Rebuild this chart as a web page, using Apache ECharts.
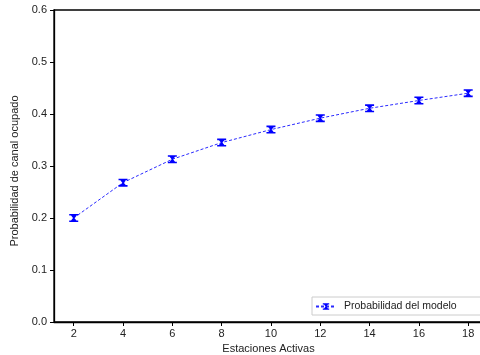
<!DOCTYPE html>
<html>
<head>
<meta charset="utf-8">
<script src="https://cdn.jsdelivr.net/npm/echarts@6/dist/echarts.min.js"></script>
<style>
  html, body { margin: 0; padding: 0; background: #fff; }
  #chart { width: 480px; height: 355px; }
</style>
</head>
<body>
<div id="chart"></div>
<script>
// Active stations and the modelled probability that the channel is busy
const stations = [2, 4, 6, 8, 10, 12, 14, 16, 18];
const busyProbability = [0.200, 0.268, 0.313, 0.345, 0.370, 0.392, 0.411, 0.426, 0.440];
const seriesName = 'Probabilidad del modelo';
const xTitle = 'Estaciones Activas';
const yTitle = 'Probabilidad de canal ocupado';

// Error-bar style marker: two caps joined by a pinched waist
const barMarker = 'path://M0,0 L10,0 L10,2 L8,2 L5.8,5 L8,8 L10,8 L10,10 L0,10 L0,8 L2,8 L4.2,5 L2,2 L0,2 Z';

const font = 'Liberation Sans, Arial, sans-serif';
const chart = echarts.init(document.getElementById('chart'), null, { renderer: 'canvas' });

chart.setOption({
  animation: false,
  grid: {
    left: 54, right: -3, top: 10, bottom: 33,
    containLabel: false, outerBoundsMode: 'none',
    show: true, borderColor: '#000', borderWidth: 1.3, backgroundColor: 'transparent'
  },
  xAxis: {
    type: 'value',
    min: 1.2,
    max: 18.6,
    name: xTitle,
    nameLocation: 'middle',
    nameGap: 18,
    nameTextStyle: { fontFamily: font, fontSize: 11, color: '#222' },
    axisLine: { show: true, onZero: false, lineStyle: { color: '#000', width: 1.3 } },
    axisTick: { show: true, length: 4, lineStyle: { color: '#000' }, customValues: stations },
    axisLabel: { fontFamily: font, fontSize: 11, color: '#222', margin: 6, customValues: stations },
    splitLine: { show: false }
  },
  yAxis: {
    type: 'value',
    min: 0,
    max: 0.6,
    interval: 0.1,
    name: yTitle,
    nameLocation: 'middle',
    nameGap: 26,
    nameTextStyle: { fontFamily: font, fontSize: 11, color: '#222', padding: [0, 10, 0, 0] },
    axisLine: { show: true, lineStyle: { color: '#000', width: 1.3 } },
    axisTick: { show: true, length: 4, lineStyle: { color: '#000' } },
    axisLabel: {
      fontFamily: font, fontSize: 11, color: '#222', margin: 7,
      padding: [0, 0, 4, 0],
      formatter: v => v.toFixed(1)
    },
    splitLine: { show: false }
  },
  legend: {
    data: [seriesName],
    left: 312,
    top: 297,
    width: 150,
    padding: [4, 30, 3, 3],
    itemWidth: 20,
    itemHeight: 8,
    itemGap: 0,
    borderColor: '#ccc',
    borderWidth: 1,
    borderRadius: 0,
    textStyle: { fontFamily: font, fontSize: 10.5, color: '#222', padding: [0, 0, 0, 3] }
  },
  series: [{
    name: seriesName,
    type: 'line',
    data: stations.map((s, i) => [s, busyProbability[i]]),
    symbol: barMarker,
    symbolSize: [9, 8],
    showAllSymbol: true,
    itemStyle: { color: '#0000ff' },
    lineStyle: { color: '#2a2aff', width: 1, type: [3, 2] },
    z: 3
  }]
});
</script>
</body>
</html>
